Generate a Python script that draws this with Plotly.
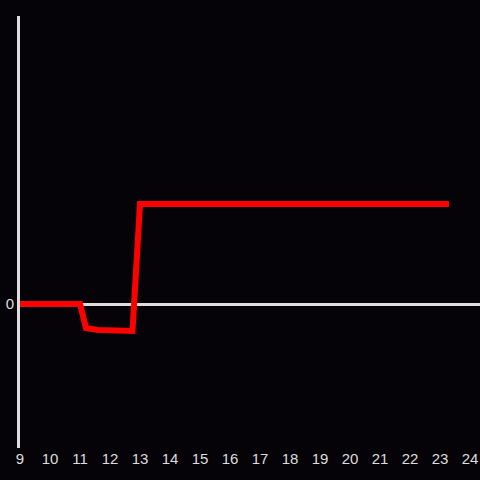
import plotly.graph_objects as go

hours = [9, 11, 11.2, 11.6, 12.75, 13.0, 23.3]
values = [0, 0, -0.24, -0.26, -0.27, 1.0, 1.0]

bg = '#050307'

fig = go.Figure()
fig.add_trace(go.Scatter(x=hours, y=values, mode='lines',
                         line=dict(color='#ff0000', width=6)))

fig.update_layout(
    width=480, height=480,
    paper_bgcolor=bg, plot_bgcolor=bg,
    margin=dict(l=20, r=0, t=16, b=32),
    showlegend=False,
    font=dict(family='Liberation Sans, Arial', size=15, color='#dddddd'),
)
fig.update_xaxes(range=[9, 24.333], tickvals=list(range(9, 25)),
                 showgrid=False, zeroline=False, showline=False,
                 ticks='', tickfont=dict(size=15, color='#dddddd'))
fig.update_yaxes(range=[-1.44, 2.88], tickvals=[0], ticktext=['0'],
                 showgrid=False, zeroline=True, zerolinecolor='#dddddd',
                 zerolinewidth=3, showline=True, linecolor='#dddddd',
                 linewidth=3, ticks='', tickfont=dict(size=15, color='#dddddd'))

fig.write_html("out.html", config={'displayModeBar': False}, post_script=(
    "document.body.style.margin='0';"
    "document.body.style.background='%s';"
    "document.body.style.overflow='hidden';" % bg))
